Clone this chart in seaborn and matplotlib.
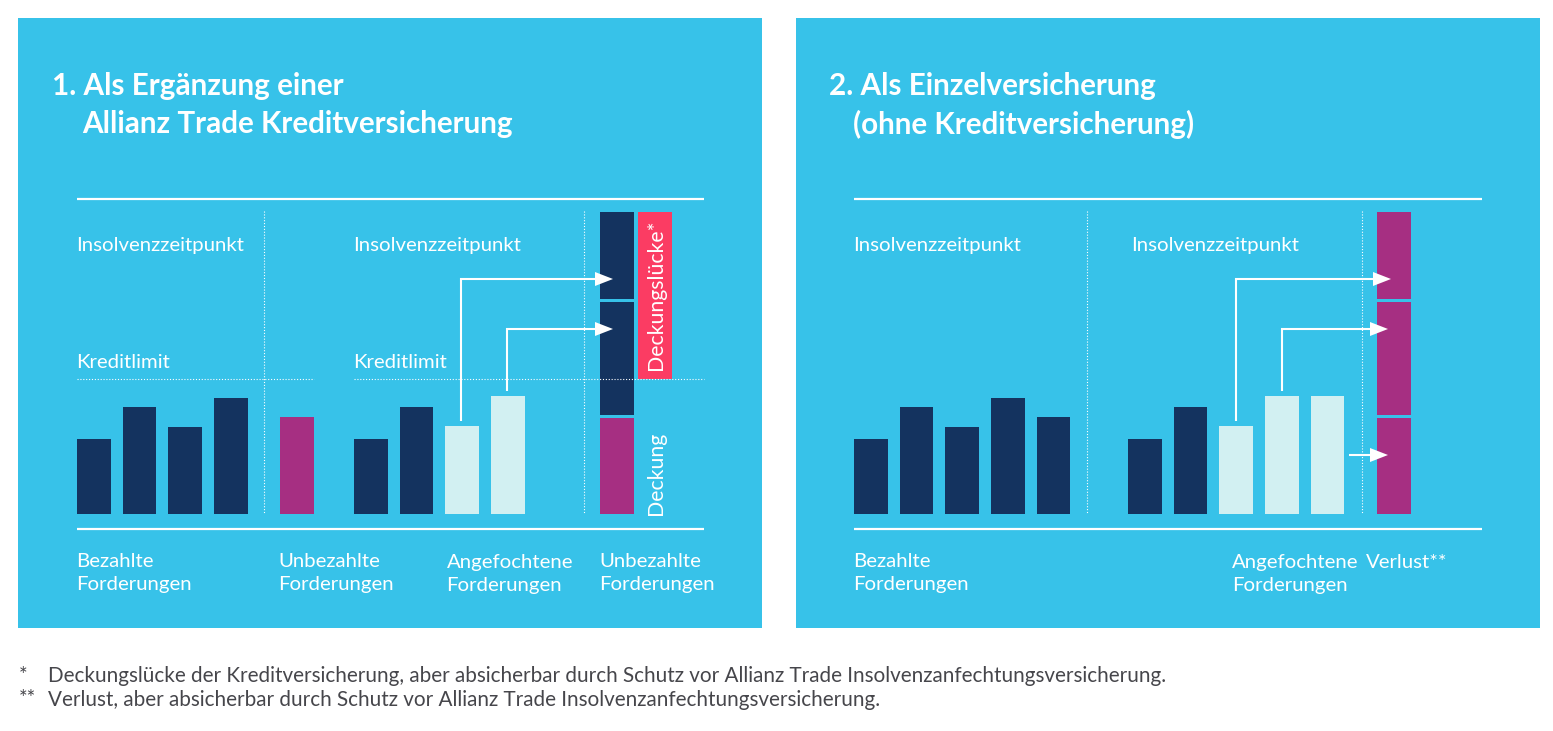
import matplotlib
matplotlib.use("Agg")
import matplotlib.pyplot as plt
from matplotlib.patches import Rectangle, Polygon
import seaborn as sns

# ---- values (bar heights on a 0-302 scale) ----
p1_paid = [75, 107, 87, 116]
p1_unpaid = [97]
p1_disputed = [75, 107, 88, 118]
stack_segments = [98.5, 116, 87.5]      # bottom → top
gap_value = 167
gap_bottom = 135
p2_paid = [75, 107, 87, 116, 97]
p2_disputed = [75, 107, 88, 118, 118]

title_1 = ["1. Als Ergänzung einer", "Allianz Trade Kreditversicherung"]
title_2 = ["2. Als Einzelversicherung", "(ohne Kreditversicherung)"]
footnotes = [("*", "Deckungslücke der Kreditversicherung, aber absicherbar durch Schutz vor Allianz Trade Insolvenzanfechtungsversicherung."),
             ("**", "Verlust, aber absicherbar durch Schutz vor Allianz Trade Insolvenzanfechtungsversicherung.")]

BG, NAVY, PURPLE, PALE, PINK = "#37C2E9", "#14335F", "#A62F82", "#D2F0F2", "#FB3C63"
WHITE, GREY = "#FFFFFF", "#46464B"
W, H = 1553, 731
PITCH, BW = 45.7, 33.5
Y0, YTOP = 514, 212

sns.set_theme(style="white")
plt.rcParams["font.family"] = ["Lato", "DejaVu Sans"]
fig = plt.figure(figsize=(W / 100, H / 100), dpi=100, facecolor="white")


def layer(z):
    a = fig.add_axes([0, 0, 1, 1], zorder=z)
    a.set_xlim(0, W)
    a.set_ylim(H, 0)
    a.axis("off")
    a.patch.set_alpha(0)
    return a


back, front = layer(0), layer(10)


def bars(x0, values, colors, name, bottom=0):
    """One bar group, with its left bar edge at pixel x0."""
    n = len(values)
    left = x0 - (PITCH - BW) / 2
    ax = fig.add_axes([left / W, 1 - Y0 / H, n * PITCH / W, (Y0 - YTOP) / H], zorder=5)
    cats = [f"{name} {i + 1}" for i in range(n)]
    sns.barplot(x=cats, y=values, hue=cats, palette=dict(zip(cats, colors)), ax=ax,
                width=BW / PITCH, saturation=1, legend=False, dodge=False, bottom=bottom,
                linewidth=0, edgecolor="none")
    ax.set_xlim(-0.5, n - 0.5)
    ax.set_ylim(0, Y0 - YTOP)
    ax.axis("off")
    ax.patch.set_alpha(0)
    return ax


def stack(x0, colors):
    """Stacked column: cumulative totals drawn tallest first."""
    totals = [sum(stack_segments[:i + 1]) for i in range(len(stack_segments))]
    for i in reversed(range(len(totals))):
        ax = bars(x0, [totals[i]], [colors[i]], f"stack{x0}-{i}")
        if i < len(totals) - 1:
            ax.axhline(totals[i], color=BG, lw=3 * 0.72, zorder=9)
    return ax


def elbow(x, y_start, y_end, x_tip):
    front.plot([x, x, x_tip - 10], [y_start, y_end, y_end], color=WHITE, lw=1.5,
               solid_capstyle="butt", solid_joinstyle="miter")
    front.add_patch(Polygon([[x_tip, y_end], [x_tip - 18, y_end - 7], [x_tip - 18, y_end + 7]], fc=WHITE, ec="none"))


LSP = 1.45


def label(x, y, s, size=14.7, **kw):
    front.text(x, y, s, color=WHITE, fontsize=size, va="center", ha=kw.pop("ha", "left"), **kw)


def hline(y, x1, x2):
    back.plot([x1, x2], [y, y], color=WHITE, lw=1.6, solid_capstyle="butt", zorder=3)


def dotted(xs, ys):
    front.plot(xs, ys, color=WHITE, lw=0.8, ls=(0, (1, 1.6)))


# panels
for x in (18, 796):
    back.add_patch(Rectangle((x, 18), 744, 610, fc=BG, ec="none"))

TITLE = 21.35
# panel 1 ---------------------------------------------------------------
for i, s in enumerate(title_1):
    front.text(52 if i == 0 else 82, 86.5 + 38 * i, s, color=WHITE, fontsize=TITLE, fontweight="bold", va="center")
hline(199, 77, 704); hline(528.5, 77, 704)
bars(77, p1_paid, [NAVY] * 4, "a")
bars(280, p1_unpaid, [PURPLE], "b")
bars(354, p1_disputed, [NAVY, NAVY, PALE, PALE], "c")
stack(600, [PURPLE, NAVY, NAVY])
bars(638, [gap_value], [PINK], "gap", bottom=gap_bottom)
dotted([264, 264], [211, 514]); dotted([584, 584], [211, 514])
dotted([77, 314], [379, 379]); dotted([354, 704], [379, 379])
elbow(461, 421, 279, 613); elbow(507, 391, 329, 613)
label(76.5, 245, "Insolvenzzeitpunkt"); label(353.5, 245, "Insolvenzzeitpunkt")
label(76.5, 362, "Kreditlimit"); label(353.5, 362, "Kreditlimit")
label(76.5, 573, "Bezahlte\nForderungen", linespacing=LSP)
label(278.5, 573, "Unbezahlte\nForderungen", linespacing=LSP)
label(446.5, 574, "Angefochtene\nForderungen", linespacing=LSP)
label(599.5, 573, "Unbezahlte\nForderungen", linespacing=LSP)
label(656, 295, "Deckungslücke*", size=15.3, rotation=90, ha="center")
label(656, 473, "Deckung", size=15.3, rotation=90, ha="center")

# panel 2 ---------------------------------------------------------------
for i, s in enumerate(title_2):
    front.text(829 if i == 0 else 853, 86.5 + 38 * i, s, color=WHITE, fontsize=TITLE, fontweight="bold", va="center")
hline(199, 854, 1482); hline(528.5, 854, 1482)
bars(854, p2_paid, [NAVY] * 5, "d")
bars(1128, p2_disputed, [NAVY, NAVY, PALE, PALE, PALE], "e")
stack(1377, [PURPLE, PURPLE, PURPLE])
dotted([1087, 1087], [211, 514]); dotted([1362, 1362], [211, 514])
elbow(1236, 421, 279, 1391); elbow(1282, 391, 329, 1388)
front.plot([1349, 1378], [455, 455], color=WHITE, lw=1.5, solid_capstyle="butt")
front.add_patch(Polygon([[1388, 455], [1370, 448], [1370, 462]], fc=WHITE, ec="none"))
label(853.5, 245, "Insolvenzzeitpunkt"); label(1131.5, 245, "Insolvenzzeitpunkt")
label(853.5, 573, "Bezahlte\nForderungen", linespacing=LSP)
label(1232, 574, "Angefochtene\nForderungen", linespacing=LSP)
label(1366, 562, "Verlust**")

# footnotes
for i, (mark, s) in enumerate(footnotes):
    y = 676 + 23.5 * i
    front.text(19, y, mark, color=GREY, fontsize=14.87, va="center")
    front.text(48, y, s, color=GREY, fontsize=14.87, va="center")

fig.savefig("out.png", dpi=100)
